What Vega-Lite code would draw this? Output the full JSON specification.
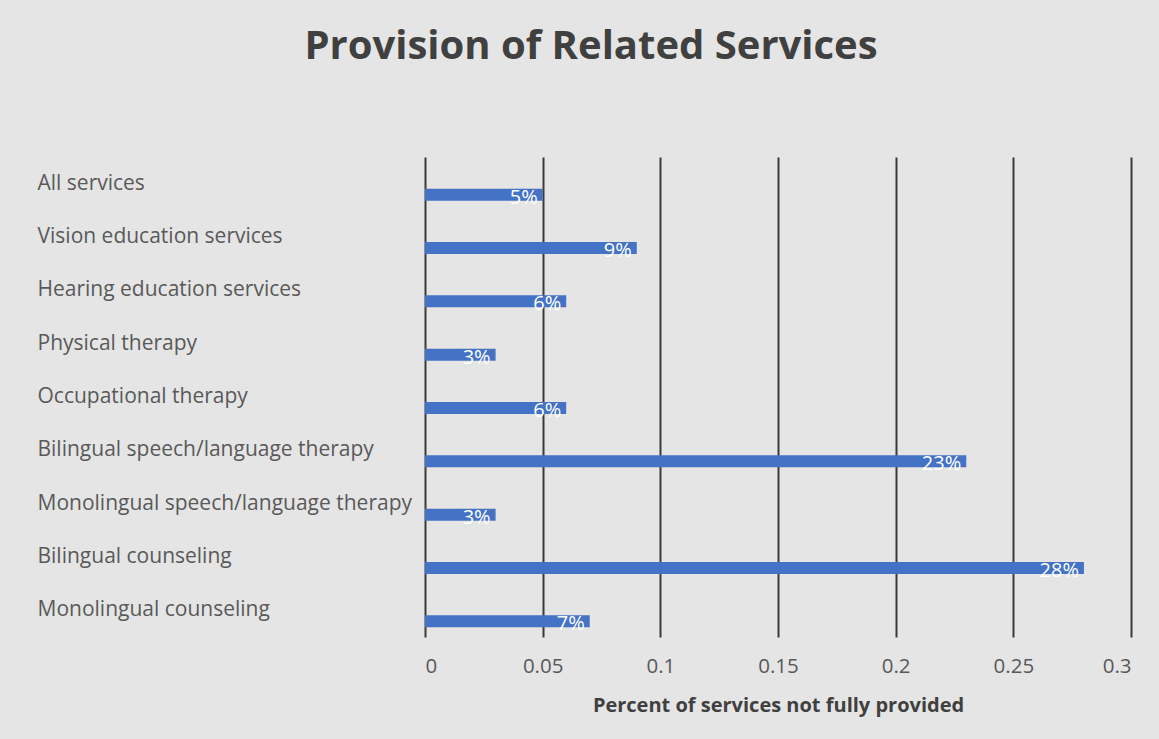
{
  "$schema": "https://vega.github.io/schema/vega-lite/v6.json",
  "width": 706,
  "height": 480,
  "autosize": {"type": "none"},
  "padding": {"left": 425, "top": 157, "right": 28, "bottom": 102},
  "background": "#e5e5e5",
  "config": {"view": {"stroke": null}, "font": "Open Sans"},
  "title": {
    "text": "Provision of Related Services",
    "fontSize": 40,
    "font": "Open Sans",
    "fontWeight": "bold",
    "color": "#404040",
    "anchor": "middle",
    "frame": "group",
    "dx": -187,
    "baseline": "alphabetic",
    "offset": 58
  },
  "data": {
    "values": [
      {"service": "All services", "value": 0.05},
      {"service": "Vision education services", "value": 0.09},
      {"service": "Hearing education services", "value": 0.06},
      {"service": "Physical therapy", "value": 0.03},
      {"service": "Occupational therapy", "value": 0.06},
      {"service": "Bilingual speech/language therapy", "value": 0.23},
      {"service": "Monolingual speech/language therapy", "value": 0.03},
      {"service": "Bilingual counseling", "value": 0.28},
      {"service": "Monolingual counseling", "value": 0.07}
    ]
  },
  "encoding": {
    "y": {
      "field": "service",
      "type": "nominal",
      "sort": null,
      "scale": {"paddingInner": 0, "paddingOuter": 0},
      "axis": {
        "title": null,
        "domain": false,
        "ticks": false,
        "labelAlign": "left",
        "labelPadding": 388,
        "labelLimit": 420,
        "labelFontSize": 21,
        "labelColor": "#595959",
        "labelFont": "Open Sans"
      }
    }
  },
  "layer": [
    {
      "mark": {"type": "bar", "height": 12, "yOffset": 11, "color": "#4472C4"},
      "encoding": {
        "x": {
          "field": "value",
          "type": "quantitative",
          "scale": {"domain": [0, 0.3]},
          "axis": {
            "title": "Percent of services not fully provided",
            "values": [0, 0.05, 0.1, 0.15, 0.2, 0.25, 0.3],
            "format": "~g",
            "domain": false,
            "ticks": false,
            "grid": true,
            "gridColor": "#3a3a3a",
            "gridWidth": 2,
            "gridOpacity": 1,
            "labelFontSize": 20.5,
            "labelColor": "#595959",
            "labelPadding": 19,
            "labelFont": "Open Sans",
            "titleFont": "Open Sans",
            "titleFontSize": 20,
            "titleFontWeight": "bold",
            "titleColor": "#404040",
            "titlePadding": 19
          }
        }
      }
    },
    {
      "mark": {"type": "text", "align": "right", "dx": -5, "yOffset": 14, "color": "white", "fontSize": 20, "font": "Open Sans"},
      "encoding": {
        "x": {"field": "value", "type": "quantitative"},
        "text": {"field": "value", "type": "quantitative", "format": ".0%"}
      }
    }
  ]
}
